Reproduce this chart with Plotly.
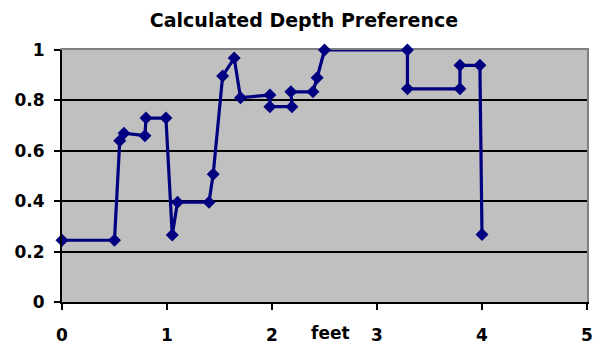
import plotly.graph_objects as go

feet = [0, 0.5, 0.55, 0.59, 0.79, 0.8, 0.99, 1.05, 1.1, 1.4, 1.44, 1.53, 1.64, 1.7,
        1.98, 1.98, 2.19, 2.18, 2.39, 2.43, 2.5, 3.29, 3.29, 3.79, 3.79, 3.98, 4.0]
preference = [0.245, 0.245, 0.64, 0.67, 0.66, 0.73, 0.73, 0.266, 0.396, 0.396, 0.507,
              0.897, 0.968, 0.811, 0.821, 0.775, 0.775, 0.834, 0.834, 0.89, 1.0, 1.0,
              0.846, 0.846, 0.939, 0.939, 0.268]
x_ticks = [0, 1, 2, 3, 4, 5]
y_ticks = [0, 0.2, 0.4, 0.6, 0.8, 1]
y_tick_labels = ["0", "0.2", "0.4", "0.6", "0.8", "1"]

NAVY = "#000080"
FONT = "DejaVu Sans"

fig = go.Figure()
# invisible trace so the top/right border axes are drawn
fig.add_trace(go.Scatter(x=[0], y=[0], xaxis="x2", yaxis="y2", mode="markers",
                         marker=dict(opacity=0), hoverinfo="skip", showlegend=False))
fig.add_trace(go.Scatter(
    x=feet, y=preference, mode="lines+markers",
    line=dict(color=NAVY, width=3.2),
    marker=dict(symbol="diamond", size=10, color=NAVY),
    cliponaxis=False, showlegend=False,
))

fig.update_layout(
    width=600, height=347,
    margin=dict(l=62, r=13, t=50, b=45, autoexpand=False),
    paper_bgcolor="white",
    plot_bgcolor="#C0C0C0",
    title=dict(text="<b>Calculated Depth Preference</b>", xref="container", x=304/600,
               xanchor="center", yref="container", y=1 - 20/347, yanchor="middle",
               font=dict(family=FONT, size=19, color="black")),
    xaxis=dict(range=[0, 5], tickvals=x_ticks, showgrid=False, zeroline=False,
               showline=True, linecolor="black", linewidth=2, automargin=False,
               ticks="outside", ticklen=6, tickwidth=2, tickcolor="black",
               ticklabelstandoff=11,
               tickfont=dict(family=FONT, size=17, color="black", weight="bold")),
    yaxis=dict(range=[0, 1], tickvals=y_ticks, ticktext=y_tick_labels,
               showgrid=True, gridcolor="black", gridwidth=2, zeroline=False,
               showline=True, linecolor="black", linewidth=2, automargin=False,
               ticks="outside", ticklen=6, tickwidth=2, tickcolor="black",
               ticklabelstandoff=6,
               tickfont=dict(family=FONT, size=17, color="black", weight="bold")),
    xaxis2=dict(range=[0, 5], overlaying="x", side="top", showgrid=False, zeroline=False,
                showline=True, linecolor="#808080", linewidth=2, showticklabels=False,
                ticks="", layer="below traces", automargin=False),
    yaxis2=dict(range=[0, 1], overlaying="y", side="right", showgrid=False, zeroline=False,
                showline=True, linecolor="#808080", linewidth=2, showticklabels=False,
                ticks="", layer="below traces", automargin=False),
    annotations=[dict(text="<b>feet</b>", x=2.56, xref="x", y=-31/252, yref="y domain",
                      xanchor="center", yanchor="middle", showarrow=False,
                      font=dict(family=FONT, size=17, color="black"))],
)

fig.write_html("out.html")
